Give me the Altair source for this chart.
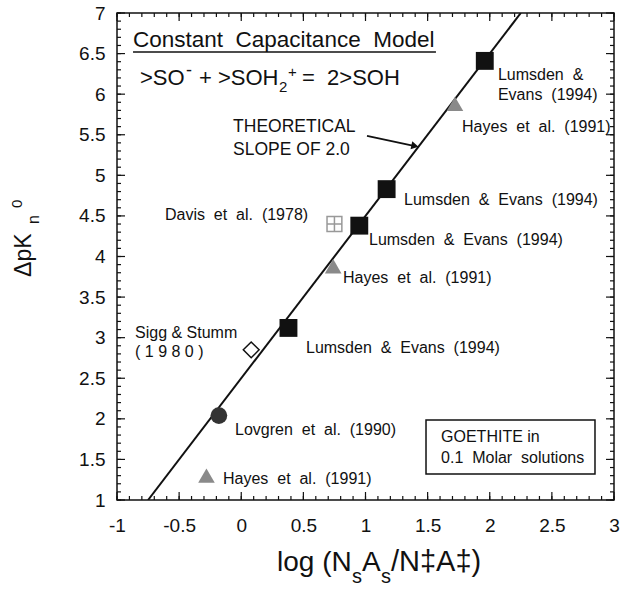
import altair as alt
import pandas as pd
import numpy as np

FONT = "Liberation Sans"
INK = "#111111"
SP = "\u00a0 "   # wide word gap (non-collapsing)

# ---------------- data ----------------
sq_x = [1.96, 1.17, 0.95, 0.38]          # Lumsden & Evans (1994)
sq_y = [6.41, 4.83, 4.38, 3.12]
tri_x = [1.72, 0.74, -0.28]              # Hayes et al. (1991)
tri_y = [5.88, 3.88, 1.30]
circ_x = [-0.18]                         # Lovgren et al. (1990)
circ_y = [2.04]
dia_x = [0.08]                           # Sigg & Stumm (1980)
dia_y = [2.85]
grid_x = [0.75]                          # Davis et al. (1978)
grid_y = [4.40]
line_x = [-0.75, 2.25]                   # theoretical slope of 2.0
line_y = [1.0, 7.0]

x_ticks = [-1, -0.5, 0, 0.5, 1, 1.5, 2, 2.5, 3]
y_ticks = [1, 1.5, 2, 2.5, 3, 3.5, 4, 4.5, 5, 5.5, 6, 6.5, 7]
x_minor = [round(v, 2) for v in np.arange(-1, 3.0001, 0.1)]
y_minor = [round(v, 2) for v in np.arange(1, 7.0001, 0.1)]

label_text = ["Lumsden" + SP + "&", "Evans" + SP + "(1994)",
              "Hayes" + SP + "et" + SP + "al." + SP + "(1991)",
              "Lumsden" + SP + "&" + SP + "Evans" + SP + "(1994)",
              "Davis" + SP + "et" + SP + "al." + SP + "(1978)",
              "Lumsden" + SP + "&" + SP + "Evans" + SP + "(1994)",
              "Hayes" + SP + "et" + SP + "al." + SP + "(1991)",
              "Sigg & Stumm", "( 1 9 8 0 )",
              "Lumsden" + SP + "&" + SP + "Evans" + SP + "(1994)",
              "Lovgren" + SP + "et" + SP + "al." + SP + "(1990)",
              "Hayes" + SP + "et" + SP + "al." + SP + "(1991)",
              "GOETHITE in", "0.1" + SP + "Molar" + SP + "solutions"]
label_x = [2.066, 2.066, 1.777, 1.310, -0.614, 1.028, 0.819, -0.855, -0.855,
           0.521, -0.050, -0.147, 1.608, 1.608]
label_y = [6.175, 5.928, 5.534, 4.635, 4.450, 4.142, 3.674, 2.996, 2.762,
           2.811, 1.801, 1.197, 1.715, 1.456]

# header, equation, arrow note, x-title pieces (text, x, y, font size)
note_text = ["Constant" + SP + "Capacitance" + SP + "Model",
             ">SO", "-", "+ >SOH", "2", "+", "=" + SP + "2>SOH",
             "THEORETICAL", "SLOPE OF 2.0",
             "log (N", "s", "A", "s", "/N\u2021A\u2021)"]
note_x = [-0.871,
          -0.815, -0.4447, -0.340, 0.304, 0.376, 0.489,
          -0.066, -0.066,
          0.2877, 0.8913, 0.9718, 1.1247, 1.2052]
note_y = [6.581,
          6.113, 6.224, 6.113, 6.027, 6.212, 6.113,
          5.534, 5.251,
          0.1255, -0.0223, 0.1255, -0.0223, 0.1255]
note_size = [22.5,
             22, 18, 22, 15, 15, 22,
             17.5, 17.5,
             28, 20, 28, 20, 29]

ytitle_text = ["\u0394pK", "n", "0"]
ytitle_x = [-1.692, -1.628, -1.765]
ytitle_y = [3.748, 4.400, 4.598]
ytitle_size = [23, 16, 15]

underline_x = [-0.871]; underline_x2 = [1.567]; underline_y = [6.52]
arrow_x = [1.012]; arrow_y = [5.485]; arrow_x2 = [1.398]; arrow_y2 = [5.361]
box_x = [1.487]; box_x2 = [2.847]; box_y = [1.321]; box_y2 = [1.986]

# ---------------- chart ----------------
W, H = 497, 487
xs = alt.Scale(domain=[-1, 3], nice=False, zero=False)
ys = alt.Scale(domain=[1, 7], nice=False, zero=False)
xaxis = alt.Axis(values=x_ticks, title=None, ticks=False, domain=False, grid=False,
                 labelFontSize=19, labelPadding=16, labelExpr="'' + datum.value",
                 labelFont=FONT, labelColor=INK, labelFlush=False)
yaxis = alt.Axis(values=y_ticks, title=None, ticks=False, domain=False, grid=False,
                 labelFontSize=19, labelPadding=12, labelExpr="'' + datum.value",
                 labelFont=FONT, labelColor=INK, labelFlush=False)


def X(f="x"):
    return alt.X(f"{f}:Q", scale=xs, axis=xaxis)


def Y(f="y"):
    return alt.Y(f"{f}:Q", scale=ys, axis=yaxis)


def df(**kw):
    return pd.DataFrame(kw)


layers = []

# inward ticks on all four sides
for vals, ln in ((x_minor, 4), (x_ticks, 8)):
    d = df(x=vals)
    layers.append(alt.Chart(d).mark_rule(color=INK, strokeWidth=1.2).encode(
        x=X(), y=alt.value(H), y2=alt.value(H - ln)))
    layers.append(alt.Chart(d).mark_rule(color=INK, strokeWidth=1.2).encode(
        x=X(), y=alt.value(0), y2=alt.value(ln)))
for vals, ln in ((y_minor, 4), (y_ticks, 8)):
    d = df(y=vals)
    layers.append(alt.Chart(d).mark_rule(color=INK, strokeWidth=1.2).encode(
        y=Y(), x=alt.value(0), x2=alt.value(ln)))
    layers.append(alt.Chart(d).mark_rule(color=INK, strokeWidth=1.2).encode(
        y=Y(), x=alt.value(W), x2=alt.value(W - ln)))

# theoretical line
layers.append(alt.Chart(df(x=line_x, y=line_y)).mark_line(
    color=INK, strokeWidth=2, clip=True).encode(x=X(), y=Y()))

# markers
layers.append(alt.Chart(df(x=sq_x, y=sq_y)).mark_point(
    shape="square", filled=True, size=320, color=INK, opacity=1).encode(x=X(), y=Y()))
layers.append(alt.Chart(df(x=tri_x, y=tri_y)).mark_point(
    shape="triangle-up", filled=True, size=275, color="#8a8a8a", opacity=1).encode(x=X(), y=Y()))
layers.append(alt.Chart(df(x=circ_x, y=circ_y)).mark_point(
    shape="circle", filled=True, size=280, color="#333333", opacity=1).encode(x=X(), y=Y()))
layers.append(alt.Chart(df(x=dia_x, y=dia_y)).mark_point(
    shape="diamond", filled=True, size=250, fill="white", stroke=INK, strokeWidth=1.5,
    opacity=1).encode(x=X(), y=Y()))
layers.append(alt.Chart(df(x=grid_x, y=grid_y)).mark_point(
    shape="M-1,-1L1,-1L1,1L-1,1Z M0,-1L0,1 M-1,0L1,0", filled=False, size=220,
    stroke="#999999", strokeWidth=1.5, opacity=1).encode(x=X(), y=Y()))

# data labels
layers.append(alt.Chart(df(t=label_text, x=label_x, y=label_y)).mark_text(
    align="left", baseline="alphabetic", font=FONT, fontSize=16, color=INK).encode(
    x=X(), y=Y(), text="t:N"))

# header / equation / notes / x title
layers.append(alt.Chart(df(t=note_text, x=note_x, y=note_y, s=note_size)).mark_text(
    align="left", baseline="alphabetic", font=FONT, color=INK).encode(
    x=X(), y=Y(), text="t:N", size=alt.Size("s:Q", scale=None)))

# y title (rotated)
layers.append(alt.Chart(df(t=ytitle_text, x=ytitle_x, y=ytitle_y, s=ytitle_size)).mark_text(
    align="left", baseline="alphabetic", font=FONT, color=INK, angle=270).encode(
    x=X(), y=Y(), text="t:N", size=alt.Size("s:Q", scale=None)))

# underline of header
layers.append(alt.Chart(df(x=underline_x, x2=underline_x2, y=underline_y)).mark_rule(
    color=INK, strokeWidth=1.5).encode(x=X(), x2="x2:Q", y=Y()))

# arrow
layers.append(alt.Chart(df(x=arrow_x, y=arrow_y, x2=arrow_x2, y2=arrow_y2)).mark_rule(
    color=INK, strokeWidth=1.8).encode(x=X(), y=Y(), x2="x2:Q", y2="y2:Q"))
layers.append(alt.Chart(df(x=arrow_x2, y=arrow_y2)).mark_point(
    shape="triangle-right", filled=True, size=70, color=INK, angle=12, opacity=1).encode(
    x=X(), y=Y()))

# legend box
layers.append(alt.Chart(df(x=box_x, x2=box_x2, y=box_y, y2=box_y2)).mark_rect(
    fill="white", fillOpacity=0, stroke=INK, strokeWidth=1.5).encode(
    x=X(), x2="x2:Q", y=Y(), y2="y2:Q"))

chart = alt.layer(*layers).properties(
    width=W, height=H,
    autosize=alt.AutoSizeParams(type="none"),
    padding={"left": 117, "top": 13, "right": 6, "bottom": 90},
    background="white",
).configure_view(stroke=INK, strokeWidth=1.5)

chart.save("out.html", embed_options={"renderer": "svg", "actions": False})
